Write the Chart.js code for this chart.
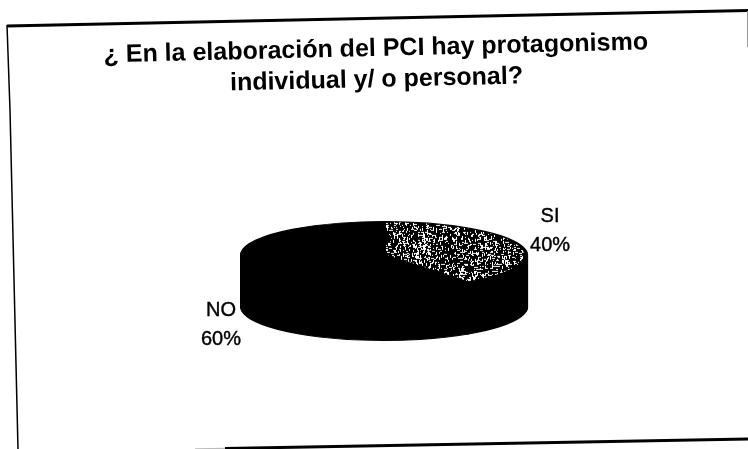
<!DOCTYPE html>
<html><head><meta charset="utf-8">
<style>html,body{margin:0;padding:0;background:#fff}#w{width:748px;height:449px;position:relative}canvas{display:block}</style>
<script src="https://cdn.jsdelivr.net/npm/chart.js@4/dist/chart.umd.min.js"></script>
</head><body><div id="w"><canvas id="c" width="748" height="449"></canvas></div>
<script>
const categories = ['SI', 'NO'];
const values = [40, 60];
const titleLines = ['¿ En la elaboración del PCI hay protagonismo', 'individual y/ o personal?'];

const SQUASH = 0.236, DEPTH = 52, TILT = -1.35 * Math.PI / 180;

function stipple() {
  const s = 128, t = document.createElement('canvas');
  t.width = t.height = s;
  const g = t.getContext('2d');
  g.fillStyle = '#000'; g.fillRect(0, 0, s, s);
  g.fillStyle = '#fff';
  let h = 2463534242;
  const next = () => { h ^= h << 13; h >>>= 0; h ^= h >>> 17; h ^= h << 5; h >>>= 0; return h; };
  for (let i = 0; i < 2600; i++) {
    const x = next() % s, y = next() % s, len = next() % 3 + 1, horiz = next() % 2 === 0;
    g.fillRect(x, y, horiz ? len : 1, horiz ? 1 : len);
  }
  const p = document.createElement('canvas').getContext('2d').createPattern(t, 'repeat');
  p.setTransform(new DOMMatrix().scale(1, 1 / SQUASH));
  return p;
}

const pie3d = {
  id: 'pie3d',
  afterLayout(chart) {
    const tb = chart.titleBlock;
    if (tb && !tb._tilted) {
      tb._tilted = true;
      const orig = tb.draw.bind(tb);
      tb.draw = function () {
        const c = chart.ctx, px = tb.left + tb.width / 2, py = tb.top + tb.height / 2;
        c.save(); c.translate(px - 8, py + 2); c.rotate(TILT); c.translate(-px, -py);
        orig(); c.restore();
      };
    }
  },
  beforeDatasetDraw(chart) {
    const c = chart.ctx, arcs = chart.getDatasetMeta(0).data, a = arcs[0];
    c.save();
    c.translate(a.x, a.y); c.scale(1, SQUASH); c.translate(-a.x, -a.y);
    for (let d = DEPTH; d > 0; d -= 1) {
      c.save(); c.translate(0, d / SQUASH);
      arcs.forEach(el => {
        const keep = el.options;
        el.options = Object.assign({}, keep, { backgroundColor: '#000', borderColor: '#000' });
        el.draw(c);
        el.options = keep;
      });
      c.restore();
    }
  },
  afterDatasetDraw(chart) { chart.ctx.restore(); },
  afterDraw(chart) {
    const c = chart.ctx, arcs = chart.getDatasetMeta(0).data, total = values.reduce((x, y) => x + y, 0);
    c.save();
    c.fillStyle = '#000'; c.strokeStyle = '#000'; c.lineWidth = 0.4;
    c.font = '20px "Liberation Sans"'; c.textAlign = 'center'; c.textBaseline = 'middle';
    const put = (s, x, y) => { c.fillText(s, x, y); c.strokeText(s, x, y); };
    arcs.forEach((el, i) => {
      const mid = (el.startAngle + el.endAngle) / 2, r = el.outerRadius;
      const x = el.x + Math.cos(mid) * r * 1.2 + (i === 0 ? 4 : -1);
      const y = i === 0 ? el.y + Math.sin(mid) * r * SQUASH - 13 : el.y + Math.sin(mid) * r * SQUASH + DEPTH + 8;
      put(categories[i], x, y - 15);
      put(Math.round(values[i] / total * 100) + '%', x, y + 14);
    });
    c.restore();
    // scanned page frame
    c.save(); c.strokeStyle = '#000'; c.lineCap = 'butt';
    c.lineWidth = 3; c.beginPath(); c.moveTo(7, 26); c.lineTo(748, 10.5); c.stroke();
    c.lineWidth = 1.5; c.beginPath(); c.moveTo(7, 25); c.lineTo(10, 110); c.lineTo(18, 449); c.stroke();
    c.lineWidth = 3; c.beginPath(); c.moveTo(225, 448.5); c.lineTo(748, 439); c.stroke();
    c.strokeStyle = '#bbb'; c.lineWidth = 1.5; c.beginPath(); c.moveTo(195, 449); c.lineTo(225, 448.5); c.stroke();
    c.strokeStyle = '#999'; c.lineWidth = 1; c.beginPath(); c.moveTo(747.5, 11); c.lineTo(747.5, 47); c.stroke();
    c.restore();
  }
};

new Chart(document.getElementById('c'), {
  type: 'pie',
  data: {
    labels: categories,
    datasets: [{
      data: values,
      backgroundColor: [stipple(), '#000'],
      borderColor: '#000',
      borderWidth: 4,
      clip: false
    }]
  },
  options: {
    responsive: false,
    animation: false,
    layout: { padding: { left: 20, right: 0, top: 0, bottom: 50 } },
    plugins: {
      legend: { display: false },
      tooltip: { enabled: false },
      title: {
        display: true,
        text: titleLines,
        color: '#000',
        font: { family: '"Liberation Sans"', size: 25, weight: 'bold', lineHeight: 1.24 },
        padding: { top: 31.5, bottom: 17.5 }
      }
    }
  },
  plugins: [pie3d]
});
</script></body></html>
